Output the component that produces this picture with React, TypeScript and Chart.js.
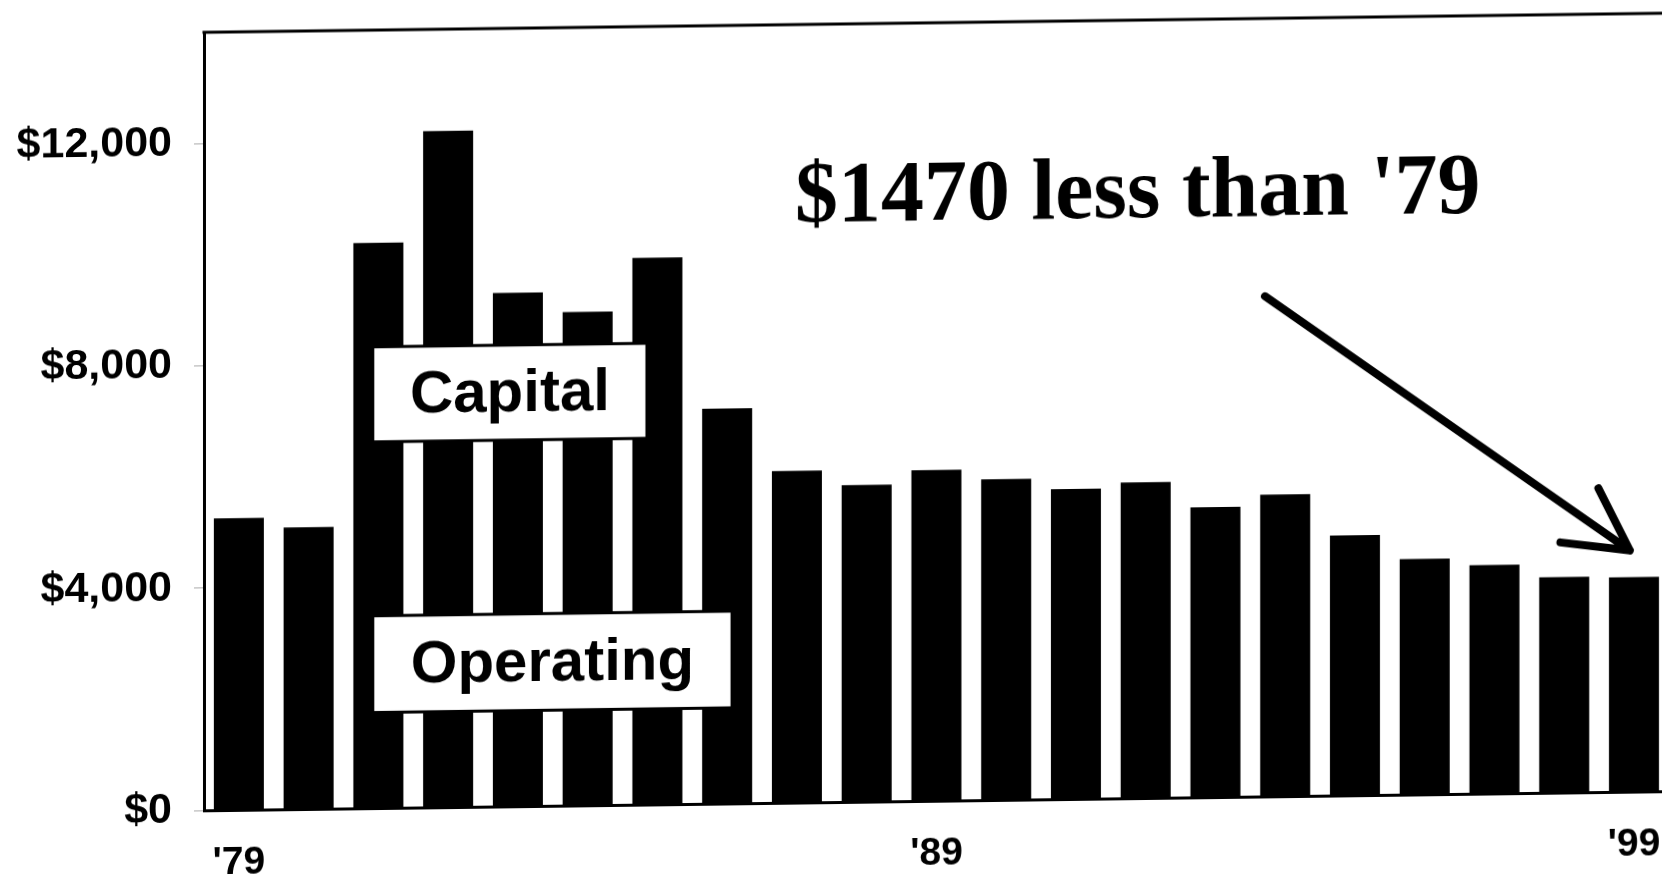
import React, { useEffect, useRef } from "react";
import { Chart, registerables } from "chart.js";

Chart.register(...registerables);

// ---- data ----
const years = [
  "'79", "'80", "'81", "'82", "'83", "'84", "'85", "'86", "'87", "'88",
  "'89", "'90", "'91", "'92", "'93", "'94", "'95", "'96", "'97", "'98", "'99",
];
const totalSpending = [
  5250, 5070, 10170, 12170, 9240, 8880, 9840, 7110, 5970, 5700,
  5950, 5770, 5580, 5680, 5220, 5430, 4680, 4240, 4110, 3880, 3860,
];
const shownYearLabels = ["'79", "'89", "'99"];
const yTickValues = [0, 4000, 8000, 12000];
const yMax = 14000;

const headline = "$1470 less than '79";

// ---- annotation placement (in scale units) ----
const labelBoxes = [
  { text: "Capital", fromIndex: 1.92, toIndex: 5.85, topValue: 8300, bottomValue: 6590 },
  { text: "Operating", fromIndex: 1.92, toIndex: 7.07, topValue: 3460, bottomValue: 1720 },
];
const headlinePos = { index: 7.97, value: 10450 };
const arrowPos = { fromIndex: 14.71, fromValue: 9000, toIndex: 19.94, toValue: 4340 };

const SANS = '"Liberation Sans", Arial, Helvetica, sans-serif';
const SERIF = '"Liberation Serif", "Times New Roman", serif';

const annotationPlugin = {
  id: "annotations",
  afterDatasetsDraw(chart: any) {
    const { ctx, chartArea, scales } = chart;
    const x = scales.x;
    const y = scales.y;
    ctx.save();
    // top frame line
    ctx.strokeStyle = "#000";
    ctx.lineWidth = 3;
    ctx.beginPath();
    ctx.moveTo(chartArea.left - 1.5, chartArea.top);
    ctx.lineTo(chartArea.right + 2, chartArea.top);
    ctx.stroke();

    // label boxes
    for (const b of labelBoxes) {
      const l = x.getPixelForValue(b.fromIndex);
      const r = x.getPixelForValue(b.toIndex);
      const t = y.getPixelForValue(b.topValue);
      const bt = y.getPixelForValue(b.bottomValue);
      ctx.fillStyle = "#fff";
      ctx.fillRect(l, t, r - l, bt - t);
      ctx.strokeStyle = "#000";
      ctx.lineWidth = 3;
      ctx.strokeRect(l, t, r - l, bt - t);
      ctx.fillStyle = "#000";
      ctx.font = `bold 60px ${SANS}`;
      ctx.textAlign = "center";
      ctx.textBaseline = "middle";
      ctx.fillText(b.text, (l + r) / 2, (t + bt) / 2 + 2);
    }

    // headline
    ctx.fillStyle = "#000";
    ctx.font = `bold 86px ${SERIF}`;
    ctx.textAlign = "left";
    ctx.textBaseline = "alphabetic";
    ctx.fillText(headline, x.getPixelForValue(headlinePos.index), y.getPixelForValue(headlinePos.value));

    // arrow
    const x1 = x.getPixelForValue(arrowPos.fromIndex);
    const y1 = y.getPixelForValue(arrowPos.fromValue);
    const x2 = x.getPixelForValue(arrowPos.toIndex);
    const y2 = y.getPixelForValue(arrowPos.toValue);
    const ang = Math.atan2(y2 - y1, x2 - x1);
    const head = 70;
    const spread = (28 * Math.PI) / 180;
    ctx.strokeStyle = "#000";
    ctx.lineWidth = 8;
    ctx.lineCap = "round";
    ctx.lineJoin = "round";
    ctx.beginPath();
    ctx.moveTo(x1, y1);
    ctx.lineTo(x2, y2);
    ctx.moveTo(x2 - head * Math.cos(ang - spread), y2 - head * Math.sin(ang - spread));
    ctx.lineTo(x2, y2);
    ctx.lineTo(x2 - head * Math.cos(ang + spread), y2 - head * Math.sin(ang + spread));
    ctx.stroke();
    ctx.restore();
  },
};

export default function App() {
  const canvasRef = useRef<HTMLCanvasElement | null>(null);

  useEffect(() => {
    if (!canvasRef.current) return;
    const chart = new Chart(canvasRef.current, {
      type: "bar",
      data: {
        labels: years,
        datasets: [
          {
            label: "Spending per pupil",
            data: totalSpending,
            backgroundColor: "#000",
            borderWidth: 0,
            barPercentage: 0.717,
            categoryPercentage: 1,
          },
        ],
      },
      options: {
        animation: false,
        responsive: true,
        maintainAspectRatio: false,
        layout: { padding: { left: 0, right: 0, top: 35, bottom: 0 } },
        plugins: {
          legend: { display: false },
          tooltip: { enabled: false },
          title: { display: false },
        },
        scales: {
          x: {
            offset: true,
            grid: { display: false, drawTicks: false },
            border: { display: true, color: "#000", width: 3 },
            ticks: {
              autoSkip: false,
              maxRotation: 0,
              minRotation: 0,
              padding: 30,
              color: "#000",
              font: { family: SANS, size: 39, weight: "bold" },
              callback: (_v: any, i: number) =>
                shownYearLabels.includes(years[i]) ? years[i] : "",
            },
            afterFit: (s: any) => {
              s.height = 71;
              s.paddingLeft = 0;
              s.paddingRight = 0;
            },
          },
          y: {
            min: 0,
            max: yMax,
            grid: {
              drawOnChartArea: false,
              drawTicks: true,
              tickLength: 10,
              color: "#aaa",
              lineWidth: 1,
            },
            border: { display: true, color: "#000", width: 3 },
            ticks: {
              stepSize: 4000,
              padding: 22,
              color: "#000",
              font: { family: SANS, size: 43, weight: "bold" },
              callback: (v: any) => "$" + Number(v).toLocaleString("en-US"),
            },
            afterBuildTicks: (s: any) => {
              s.ticks = yTickValues.map((v) => ({ value: v }));
            },
            afterFit: (s: any) => {
              s.width = 204;
              s.paddingTop = 0;
              s.paddingBottom = 0;
            },
          },
        },
      },
      plugins: [annotationPlugin],
    });
    return () => chart.destroy();
  }, []);

  return (
    <div
      style={{
        position: "absolute",
        left: 0,
        top: 0,
        width: 1662,
        height: 884,
        overflow: "hidden",
        background: "#fff",
      }}
    >
      <div
        style={{
          position: "absolute",
          left: 0,
          top: 0,
          width: 1669,
          height: 884,
          transform: "skewY(-0.75deg)",
          transformOrigin: "0 0",
        }}
      >
        <canvas ref={canvasRef} />
      </div>
    </div>
  );
}
